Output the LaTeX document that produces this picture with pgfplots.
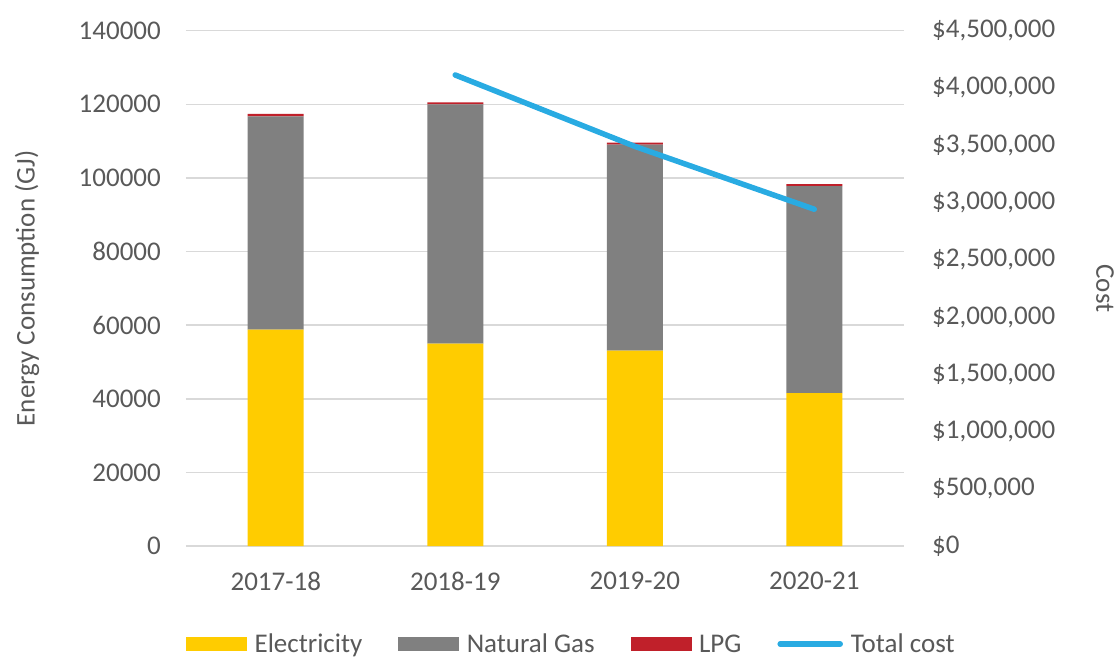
\documentclass[border=0pt]{standalone}
\usepackage{pgfplots}
\pgfplotsset{compat=1.18}
\usepackage{fontspec}
\setmainfont{Carlito}
\usetikzlibrary{calc}
\definecolor{elec}{HTML}{FFCC00}
\definecolor{gas}{HTML}{808080}
\definecolor{lpg}{HTML}{C0202A}
\definecolor{costc}{HTML}{29ABE2}
\definecolor{txt}{HTML}{595959}
\definecolor{gridc}{HTML}{D9D9D9}
\begin{document}
\begin{tikzpicture}
\pgfplotsset{
  common/.style={
    scale only axis, width=718pt, height=515.3pt,
    xmin=-0.5, xmax=3.5,
    major tick length=0pt,
    scaled y ticks=false,
    axis line style={draw=none},
    tick label style={font=\fontsize{27}{32}\selectfont, text=txt, inner sep=0pt},
    /pgf/number format/assume math mode=true,
  }
}
\begin{axis}[common,
  name=main,
  ybar stacked, bar width=56pt,
  ymin=0, ymax=140000,
  ytick={0,20000,...,140000},
  yticklabels={0,20000,40000,60000,80000,100000,120000,140000},
  yticklabel style={xshift=-25pt},
  xtick={0,1,2,3},
  xticklabels={2017-18,2018-19,2019-20,2020-21},
  xticklabel style={yshift=-26pt},
  ymajorgrids, grid style={gridc, line width=1.6pt},
  every axis y label/.style={at={(axis description cs:-0.22145,0.5)}, anchor=center, rotate=90,
    font=\fontsize{27}{32}\selectfont, text=txt},
  ylabel={Energy Consumption (GJ)},
]
\addplot[fill=elec, draw=none] coordinates {(0,58800) (1,55000) (2,53100) (3,41500)};
\addplot[fill=gas, draw=none] coordinates {(0,57950) (1,65000) (2,55960) (3,56260)};
\addplot[fill=lpg, draw=none] coordinates {(0,650) (1,550) (2,550) (3,550)};
\end{axis}
\begin{axis}[common,
  ymin=0, ymax=4500000,
  hide x axis,
  axis y line*=right,
  y axis line style={draw=none},
  ytick={0,500000,1000000,1500000,2000000,2500000,3000000,3500000,4000000,4500000},
  yticklabels={{\$0},{\$500,000},{\$1,000,000},{\$1,500,000},{\$2,000,000},{\$2,500,000},{\$3,000,000},{\$3,500,000},{\$4,000,000},{\$4,500,000}},
  yticklabel style={anchor=west, xshift=28pt},
  every axis y label/.style={at={(axis description cs:1.27994,0.5)}, anchor=center, rotate=-90,
    font=\fontsize{27}{32}\selectfont, text=txt},
  ylabel={Cost},
  legend columns=4,
  legend style={draw=none, fill=none, at={(0,0)}, anchor=west, xshift=-3pt, yshift=-98pt,
    font=\fontsize{27}{32}\selectfont, text=txt,
    nodes={inner sep=0pt},
    /tikz/every odd column/.append style={column sep=8pt},
    /tikz/every even column/.append style={column sep=36pt}},
]
\addlegendimage{legend image code/.code={\fill[elec] (0pt,-6.5pt) rectangle (60pt,6.5pt);}}
\addlegendentry{Electricity}
\addlegendimage{legend image code/.code={\fill[gas] (0pt,-6.5pt) rectangle (60pt,6.5pt);}}
\addlegendentry{Natural Gas}
\addlegendimage{legend image code/.code={\fill[lpg] (0pt,-6.5pt) rectangle (60pt,6.5pt);}}
\addlegendentry{LPG}
\addplot[costc, line width=5.5pt, line cap=round, line join=round, mark=none,
  legend image code/.code={\draw[costc, line width=5.5pt, line cap=round] (3pt,0pt) -- (63pt,0pt);}]
  coordinates {(1,4113000) (2,3490000) (3,2941000)};
\addlegendentry{Total cost}
\end{axis}
\pgfresetboundingbox
\path[use as bounding box] ($(main.south west)+(-186pt,-110pt)$) rectangle ($(main.north east)+(215pt,30.7pt)$);
\end{tikzpicture}
\end{document}
